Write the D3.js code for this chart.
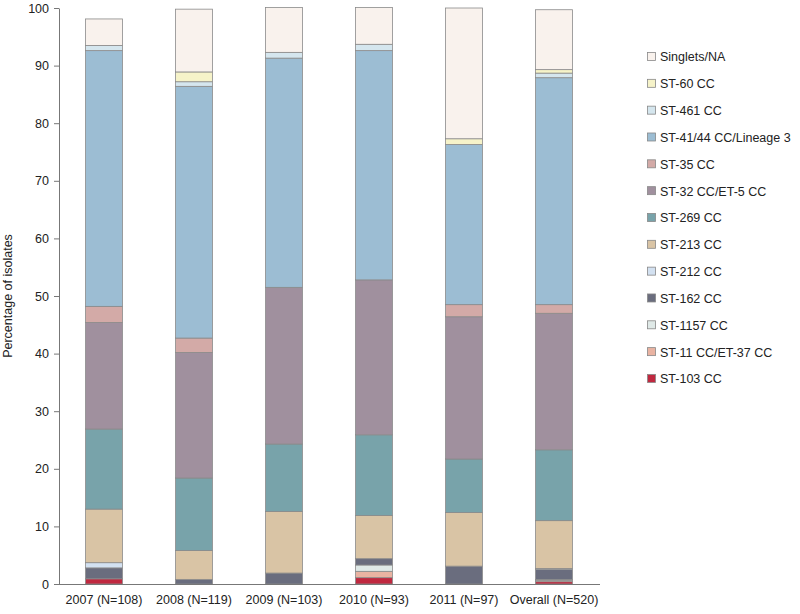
<!DOCTYPE html>
<html>
<head>
<meta charset="utf-8">
<script src="https://cdn.jsdelivr.net/npm/d3@7"></script>
<style>
  body { margin: 0; background: #fff; }
  svg { font-family: "Liberation Sans", Arial, sans-serif; }
</style>
</head>
<body>
<svg id="chart" width="800" height="614"></svg>
<script>
const years = ["2007 (N=108)", "2008 (N=119)", "2009 (N=103)", "2010 (N=93)", "2011 (N=97)", "Overall (N=520)"];

// stacking order, bottom to top
const groups = ["ST-103 CC", "ST-11 CC/ET-37 CC", "ST-1157 CC", "ST-162 CC", "ST-212 CC", "ST-213 CC",
  "ST-269 CC", "ST-32 CC/ET-5 CC", "ST-35 CC", "ST-41/44 CC/Lineage 3", "ST-461 CC", "ST-60 CC", "Singlets/NA"];

// percentage of isolates per year, one array per group (same order as years)
const st103   = [0.9, 0, 0, 1.1, 0, 0.4];
const st11    = [0, 0, 0, 1.1, 0, 0.2];
const st1157  = [0, 0, 0, 1.1, 0, 0.2];
const st162   = [1.9, 0.8, 1.9, 1.1, 3.1, 1.7];
const st212   = [0.9, 0, 0, 0, 0, 0.2];
const st213   = [9.3, 5.0, 10.7, 7.5, 9.3, 8.3];
const st269   = [13.9, 12.6, 11.7, 14.0, 9.3, 12.3];
const st32    = [18.5, 21.8, 27.2, 26.9, 24.7, 23.7];
const st35    = [2.8, 2.5, 0, 0, 2.1, 1.5];
const st4144  = [44.4, 43.7, 39.8, 39.8, 27.8, 39.4];
const st461   = [0.9, 0.8, 1.0, 1.1, 0, 0.8];
const st60    = [0, 1.7, 0, 0, 1.0, 0.6];
const singlets = [4.6, 10.9, 7.8, 6.4, 22.7, 10.4];

const yTicks = [0, 10, 20, 30, 40, 50, 60, 70, 80, 90, 100];

const colors = ["#c0283f", "#e9b3a2", "#dfe9e7", "#6a6d7e", "#d3e1f1", "#d9c4a5",
  "#78a3aa", "#a0909e", "#d3aaa7", "#9cbdd3", "#d5e6ee", "#f6f3c9", "#f9f2ed"];

const series = [st103, st11, st1157, st162, st212, st213, st269, st32, st35, st4144, st461, st60, singlets];

const table = years.map((y, i) => {
  const row = { year: y };
  groups.forEach((g, j) => { row[g] = series[j][i]; });
  return row;
});

const svg = d3.select("#chart");
const x = d3.scaleBand().domain(years).range([59, 599]).paddingInner(0.59).paddingOuter(0.295);
const y = d3.scaleLinear().domain([0, 100]).range([584, 8]);
const color = d3.scaleOrdinal().domain(groups).range(colors);

const stacked = d3.stack().keys(groups)(table);

svg.append("g")
  .selectAll("g")
  .data(stacked)
  .join("g")
  .attr("fill", d => color(d.key))
  .selectAll("rect")
  .data(d => d.filter(s => s[1] - s[0] > 0))
  .join("rect")
  .attr("x", d => x(d.data.year))
  .attr("y", d => y(d[1]))
  .attr("width", x.bandwidth())
  .attr("height", d => y(d[0]) - y(d[1]))
  .attr("stroke", "#8a8a8a")
  .attr("stroke-width", 0.8);

// y axis
const yAxis = svg.append("g")
  .attr("transform", "translate(59,0)")
  .call(d3.axisLeft(y).tickValues(yTicks).tickSize(5).tickSizeOuter(0).tickPadding(5));
yAxis.select(".domain").attr("stroke", "#777");
yAxis.selectAll(".tick line").attr("stroke", "#777");
yAxis.selectAll(".tick text").attr("font-size", 12.5).attr("fill", "#222")
  .attr("font-family", "'Liberation Sans', Arial, sans-serif");

// x axis
const xAxis = svg.append("g")
  .attr("transform", "translate(0,584)")
  .call(d3.axisBottom(x).tickSize(0).tickPadding(11));
xAxis.select(".domain").attr("stroke", "#777").attr("d", "M59,0.5H600");
xAxis.selectAll(".tick text").attr("font-size", 12.5).attr("fill", "#222")
  .attr("font-family", "'Liberation Sans', Arial, sans-serif");

svg.append("text")
  .attr("transform", "translate(12,296) rotate(-90)")
  .attr("text-anchor", "middle")
  .attr("font-size", 12.5)
  .attr("fill", "#222")
  .text("Percentage of isolates");

// legend, top to bottom is reverse of stacking
const legendItems = groups.slice().reverse();
const legend = svg.append("g")
  .selectAll("g")
  .data(legendItems)
  .join("g")
  .attr("transform", (d, i) => `translate(647,${57 + i * 26.83})`);

legend.append("rect")
  .attr("x", 0.5).attr("y", -4.5)
  .attr("width", 8).attr("height", 8)
  .attr("fill", d => color(d))
  .attr("stroke", "#888")
  .attr("stroke-width", 0.8);

legend.append("text")
  .attr("x", 13)
  .attr("dy", "0.35em")
  .attr("font-size", 12.5)
  .attr("fill", "#222")
  .text(d => d);
</script>
</body>
</html>
